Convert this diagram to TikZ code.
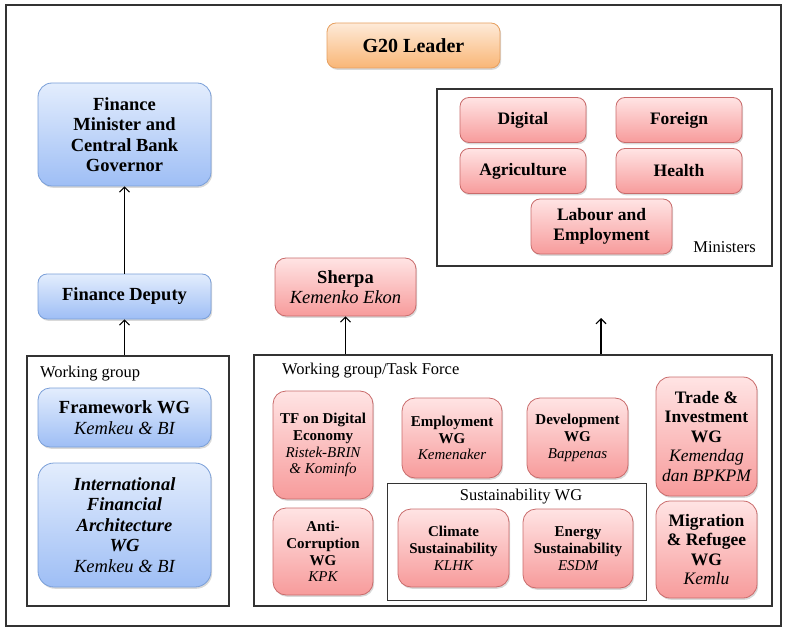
\documentclass[tikz,border=0pt]{standalone}
\usepackage{fontspec}
\setmainfont{Liberation Serif}
\usetikzlibrary{arrows.meta,shadows}
\definecolor{bluetop}{HTML}{E3EDFD}
\definecolor{bluebot}{HTML}{9EBEF5}
\definecolor{blueline}{HTML}{7A9FD8}
\definecolor{redtop}{HTML}{FFE4E4}
\definecolor{redbot}{HTML}{F79B9B}
\definecolor{redline}{HTML}{C96B6B}
\definecolor{orangetop}{HTML}{FEEAD8}
\definecolor{orangebot}{HTML}{F9B676}
\definecolor{orangeline}{HTML}{E6A060}
\definecolor{frameline}{HTML}{333333}
\newcommand{\agency}[1]{{\mdseries\itshape #1}}

\begin{document}
\begin{tikzpicture}[x=1pt,y=-1pt,
    box/.style={rectangle, rounded corners=9pt, align=center, inner sep=2pt,
        line width=0.8pt, drop shadow={shadow xshift=1.2pt, shadow yshift=-1.8pt, opacity=0.3}},
    bluebox/.style={box, draw=blueline, top color=bluetop, bottom color=bluebot},
    redbox/.style={box, draw=redline, top color=redtop, bottom color=redbot},
    orangebox/.style={box, draw=orangeline, top color=orangetop, bottom color=orangebot},
    frame/.style={draw=frameline, line width=1.1pt, rectangle, inner sep=0pt},
    lbl/.style={font=\fontsize{16.5}{19}\selectfont, inner sep=0pt},
    bigfont/.style={font=\fontsize{18.5}{20.5}\selectfont\bfseries},
    midfont/.style={font=\fontsize{17.5}{19.5}\selectfont\bfseries},
    smallfont/.style={font=\fontsize{15}{16.8}\selectfont\bfseries},
    up/.style={-{Straight Barb[length=5pt,width=10pt]}, line width=1.1pt}]
\useasboundingbox (0,0) rectangle (786,628);
\draw[frame] (6,5) rectangle (781,626);

% top
\node[orangebox, minimum width=173pt, minimum height=45pt,
    font=\fontsize{20}{22}\selectfont\bfseries] (leader) at (413.5,45.5) {G20 Leader};

% finance track
\node[bluebox, bigfont, rounded corners=14pt, minimum width=173pt, minimum height=103pt]
    (fmcbg) at (124.5,134.5) {Finance\\Minister and\\Central Bank\\Governor};
\node[bluebox, bigfont, minimum width=173pt, minimum height=45pt]
    (fdep) at (124.5,296.5) {Finance Deputy};
\node[frame, minimum width=202pt, minimum height=250pt] (wgleft) at (128,481) {};
\node[lbl, anchor=west] (wglbl) at (40,374) {Working group};
\node[bluebox, bigfont, rounded corners=12pt, minimum width=173pt, minimum height=59pt]
    (framework) at (124.5,417.5) {Framework WG\\\agency{Kemkeu \& BI}};
\node[bluebox, bigfont, rounded corners=16pt, minimum width=173pt, minimum height=124pt]
    (ifa) at (124.5,525) {\itshape International\\\itshape Financial\\\itshape Architecture\\\itshape WG\\\agency{Kemkeu \& BI}};

% sherpa track
\node[redbox, bigfont, rounded corners=11pt, minimum width=141pt, minimum height=58pt]
    (sherpa) at (345.5,287) {Sherpa\\\agency{Kemenko Ekon}};
\node[frame, minimum width=518pt, minimum height=251pt] (wgtf) at (513,480.5) {};
\node[lbl, anchor=west] (wgtflbl) at (282,371) {Working group/Task Force};
\node[redbox, smallfont, rounded corners=13pt, minimum width=100pt, minimum height=108pt]
    (tfde) at (323,445) {TF on Digital\\Economy\\\agency{Ristek-BRIN}\\\agency{\& Kominfo}};
\node[redbox, smallfont, rounded corners=13pt, minimum width=100pt, minimum height=87pt]
    (anti) at (323,551.5) {Anti-\\Corruption\\WG\\\agency{KPK}};
\node[redbox, smallfont, rounded corners=13pt, minimum width=100pt, minimum height=80pt]
    (empl) at (452,438) {Employment\\WG\\\agency{Kemenaker}};
\node[redbox, smallfont, rounded corners=13pt, minimum width=101pt, minimum height=80pt]
    (devt) at (577.5,438) {Development\\WG\\\agency{Bappenas}};
\node[redbox, midfont, rounded corners=14pt, minimum width=101pt, minimum height=119pt]
    (trade) at (706.5,436.5) {Trade \&\\Investment\\WG\\\agency{Kemendag}\\\agency{dan BPKPM}};
\node[redbox, midfont, rounded corners=14pt, minimum width=101pt, minimum height=97pt]
    (migr) at (706.5,549.5) {Migration\\\& Refugee\\WG\\\agency{Kemlu}};
\node[frame, line width=0.9pt, minimum width=259pt, minimum height=117pt] (sust) at (516.5,541.5) {};
\node[lbl] (sustlbl) at (521,497) {Sustainability WG};
\node[redbox, smallfont, rounded corners=13pt, minimum width=111pt, minimum height=78pt]
    (climate) at (453.5,548) {Climate\\Sustainability\\\agency{KLHK}};
\node[redbox, smallfont, rounded corners=13pt, minimum width=110pt, minimum height=79pt]
    (energy) at (578,548.5) {Energy\\Sustainability\\\agency{ESDM}};

% ministers
\node[frame, minimum width=335pt, minimum height=177pt] (mins) at (604.5,177.5) {};
\foreach \nm/\txt/\x/\y in {digital/Digital/523/120, foreign/Foreign/679/120,
    agri/Agriculture/523/171, health/Health/679/171}
    \node[redbox, midfont, minimum width=126pt, minimum height=45pt] (\nm) at (\x,\y) {\txt};
\node[redbox, midfont, minimum width=141pt, minimum height=55pt]
    (labour) at (601.5,226.5) {Labour and\\Employment};
\node[lbl, anchor=base east] (minslbl) at (756,252) {Ministers};

% arrows
\coordinate (minin) at (601,318);
\draw[up] (wgleft.north -| fdep.south) -- (fdep.south);
\draw[up] (fdep.north) -- (fmcbg.south);
\draw[up] (wgtf.north -| sherpa.south) -- (sherpa.south);
\draw[up] (wgtf.north -| minin) -- (minin);
\end{tikzpicture}
\end{document}
